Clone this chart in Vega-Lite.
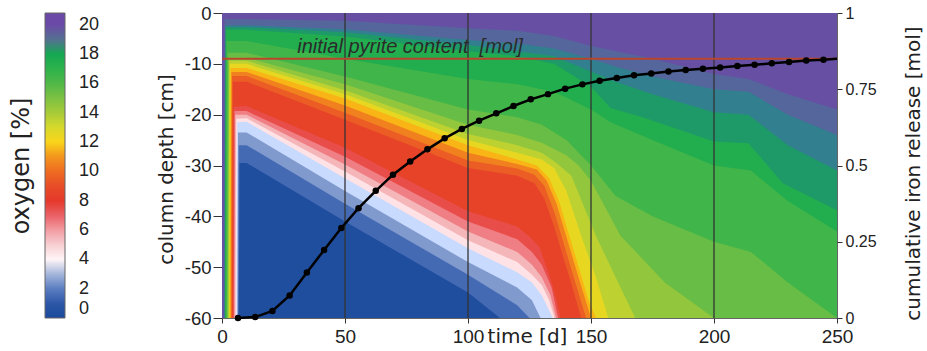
{
  "$schema": "https://vega.github.io/schema/vega-lite/v6.json",
  "width": 615,
  "height": 305,
  "autosize": {"type": "none"},
  "padding": {"left": 222, "top": 13, "right": 90, "bottom": 33},
  "background": "white",
  "config": {
    "font": "Liberation Sans",
    "view": {"stroke": "#666", "strokeWidth": 1},
    "axis": {"labelColor": "#222", "tickColor": "#333", "titleColor": "#222", "domain": false, "grid": false, "labelFlush": false}
  },
  "datasets": {
    "contours": [
      {"o":0.3,"t":0,"d":-60},{"o":0.3,"t":250,"d":-60},
      {"o":1.5,"t":0,"d":-60},{"o":1.5,"t":6.8,"d":-60},{"o":1.5,"t":7.1,"d":-29.5},{"o":1.5,"t":10,"d":-29.5},{"o":1.5,"t":50,"d":-41},{"o":1.5,"t":100,"d":-55},{"o":1.5,"t":113,"d":-60},{"o":1.5,"t":250,"d":-60},
      {"o":2.5,"t":0,"d":-60},{"o":2.5,"t":6.5,"d":-60},{"o":2.5,"t":6.8,"d":-26},{"o":2.5,"t":10,"d":-26},{"o":2.5,"t":50,"d":-37.5},{"o":2.5,"t":100,"d":-51.5},{"o":2.5,"t":120,"d":-57.5},{"o":2.5,"t":125,"d":-60},{"o":2.5,"t":250,"d":-60},
      {"o":3.5,"t":0,"d":-60},{"o":3.5,"t":6.2,"d":-60},{"o":3.5,"t":6.5,"d":-23.5},{"o":3.5,"t":10,"d":-23.5},{"o":3.5,"t":50,"d":-35},{"o":3.5,"t":100,"d":-49},{"o":3.5,"t":120,"d":-54},{"o":3.5,"t":126,"d":-56.5},{"o":3.5,"t":129.5,"d":-60},{"o":3.5,"t":250,"d":-60},
      {"o":4.5,"t":0,"d":-60},{"o":4.5,"t":5.9,"d":-60},{"o":4.5,"t":6.2,"d":-21.5},{"o":4.5,"t":10,"d":-21.4},{"o":4.5,"t":50,"d":-32.5},{"o":4.5,"t":100,"d":-46.3},{"o":4.5,"t":120,"d":-51},{"o":4.5,"t":126,"d":-53},{"o":4.5,"t":130,"d":-55.5},{"o":4.5,"t":133,"d":-58.5},{"o":4.5,"t":134.5,"d":-60},{"o":4.5,"t":250,"d":-60},
      {"o":5.5,"t":0,"d":-60},{"o":5.5,"t":5.5,"d":-60},{"o":5.5,"t":5.8,"d":-20.8},{"o":5.5,"t":10,"d":-20.7},{"o":5.5,"t":50,"d":-31.2},{"o":5.5,"t":100,"d":-44.7},{"o":5.5,"t":120,"d":-49},{"o":5.5,"t":126,"d":-51.5},{"o":5.5,"t":130,"d":-53.5},{"o":5.5,"t":133,"d":-56.5},{"o":5.5,"t":135.2,"d":-60},{"o":5.5,"t":250,"d":-60},
      {"o":6.5,"t":0,"d":-60},{"o":6.5,"t":5.1,"d":-60},{"o":6.5,"t":5.4,"d":-20},{"o":6.5,"t":10,"d":-20},{"o":6.5,"t":50,"d":-29.8},{"o":6.5,"t":100,"d":-43},{"o":6.5,"t":120,"d":-47},{"o":6.5,"t":126,"d":-49.5},{"o":6.5,"t":130,"d":-52},{"o":6.5,"t":133.5,"d":-55.5},{"o":6.5,"t":135.8,"d":-60},{"o":6.5,"t":250,"d":-60},
      {"o":7.5,"t":0,"d":-60},{"o":7.5,"t":4.8,"d":-60},{"o":7.5,"t":5.1,"d":-19.3},{"o":7.5,"t":10,"d":-19.3},{"o":7.5,"t":50,"d":-28.3},{"o":7.5,"t":100,"d":-41},{"o":7.5,"t":120,"d":-44.5},{"o":7.5,"t":126,"d":-47},{"o":7.5,"t":130,"d":-49.5},{"o":7.5,"t":134,"d":-54},{"o":7.5,"t":136.6,"d":-60},{"o":7.5,"t":250,"d":-60},
      {"o":8.5,"t":0,"d":-60},{"o":8.5,"t":4.4,"d":-60},{"o":8.5,"t":4.7,"d":-18.5},{"o":8.5,"t":10,"d":-18.3},{"o":8.5,"t":50,"d":-26.5},{"o":8.5,"t":100,"d":-39},{"o":8.5,"t":120,"d":-42},{"o":8.5,"t":125,"d":-44},{"o":8.5,"t":129,"d":-46},{"o":8.5,"t":133,"d":-51.5},{"o":8.5,"t":136,"d":-56.5},{"o":8.5,"t":137.6,"d":-60},{"o":8.5,"t":250,"d":-60},
      {"o":9.5,"t":0,"d":-60},{"o":9.5,"t":4.1,"d":-60},{"o":9.5,"t":4.4,"d":-13.5},{"o":9.5,"t":10,"d":-13.5},{"o":9.5,"t":50,"d":-21},{"o":9.5,"t":100,"d":-30.5},{"o":9.5,"t":120,"d":-32},{"o":9.5,"t":127,"d":-33.5},{"o":9.5,"t":131,"d":-36.5},{"o":9.5,"t":135,"d":-42},{"o":9.5,"t":139,"d":-48.5},{"o":9.5,"t":142.5,"d":-54},{"o":9.5,"t":146,"d":-60},{"o":9.5,"t":250,"d":-60},
      {"o":10.5,"t":0,"d":-60},{"o":10.5,"t":3.8,"d":-60},{"o":10.5,"t":4.1,"d":-12.4},{"o":10.5,"t":10,"d":-12.4},{"o":10.5,"t":50,"d":-19.6},{"o":10.5,"t":100,"d":-29},{"o":10.5,"t":120,"d":-30.6},{"o":10.5,"t":127,"d":-31.8},{"o":10.5,"t":131,"d":-34},{"o":10.5,"t":135,"d":-39},{"o":10.5,"t":139,"d":-45.5},{"o":10.5,"t":143,"d":-52},{"o":10.5,"t":148,"d":-60},{"o":10.5,"t":250,"d":-60},
      {"o":11.5,"t":0,"d":-60},{"o":11.5,"t":3.5,"d":-60},{"o":11.5,"t":3.8,"d":-11.6},{"o":11.5,"t":10,"d":-11.6},{"o":11.5,"t":50,"d":-18.2},{"o":11.5,"t":100,"d":-27.5},{"o":11.5,"t":120,"d":-29.7},{"o":11.5,"t":128,"d":-30.8},{"o":11.5,"t":132,"d":-33},{"o":11.5,"t":136,"d":-37.5},{"o":11.5,"t":140,"d":-44},{"o":11.5,"t":144,"d":-50.5},{"o":11.5,"t":150,"d":-60},{"o":11.5,"t":250,"d":-60},
      {"o":12.5,"t":0,"d":-60},{"o":12.5,"t":3.2,"d":-60},{"o":12.5,"t":3.5,"d":-10.8},{"o":12.5,"t":10,"d":-10.8},{"o":12.5,"t":50,"d":-16.8},{"o":12.5,"t":100,"d":-26},{"o":12.5,"t":120,"d":-28.8},{"o":12.5,"t":128,"d":-30},{"o":12.5,"t":133,"d":-32.5},{"o":12.5,"t":137,"d":-37},{"o":12.5,"t":141,"d":-43.5},{"o":12.5,"t":145,"d":-50},{"o":12.5,"t":149,"d":-56.5},{"o":12.5,"t":152,"d":-60},{"o":12.5,"t":250,"d":-60},
      {"o":13.5,"t":0,"d":-60},{"o":13.5,"t":2.9,"d":-60},{"o":13.5,"t":3.2,"d":-10},{"o":13.5,"t":10,"d":-10},{"o":13.5,"t":50,"d":-16},{"o":13.5,"t":100,"d":-25},{"o":13.5,"t":120,"d":-27.5},{"o":13.5,"t":130,"d":-28.8},{"o":13.5,"t":135,"d":-30.5},{"o":13.5,"t":140,"d":-35},{"o":13.5,"t":146,"d":-43.8},{"o":13.5,"t":152,"d":-52},{"o":13.5,"t":157,"d":-60},{"o":13.5,"t":250,"d":-60},
      {"o":14.5,"t":0,"d":-60},{"o":14.5,"t":2.6,"d":-60},{"o":14.5,"t":2.9,"d":-9.4},{"o":14.5,"t":10,"d":-9.4},{"o":14.5,"t":50,"d":-15.2},{"o":14.5,"t":100,"d":-23.8},{"o":14.5,"t":120,"d":-26},{"o":14.5,"t":130,"d":-27.5},{"o":14.5,"t":136,"d":-29.5},{"o":14.5,"t":142,"d":-32},{"o":14.5,"t":152,"d":-43.8},{"o":14.5,"t":160,"d":-52},{"o":14.5,"t":168,"d":-60},{"o":14.5,"t":250,"d":-60},
      {"o":15.5,"t":0,"d":-60},{"o":15.5,"t":2.3,"d":-60},{"o":15.5,"t":2.6,"d":-8.8},{"o":15.5,"t":10,"d":-8.8},{"o":15.5,"t":50,"d":-14},{"o":15.5,"t":100,"d":-22},{"o":15.5,"t":120,"d":-24},{"o":15.5,"t":130,"d":-25.5},{"o":15.5,"t":140,"d":-28},{"o":15.5,"t":145,"d":-30},{"o":15.5,"t":150,"d":-33},{"o":15.5,"t":162,"d":-43.8},{"o":15.5,"t":180,"d":-53},{"o":15.5,"t":200,"d":-60},{"o":15.5,"t":250,"d":-60},
      {"o":16.5,"t":0,"d":-60},{"o":16.5,"t":2,"d":-60},{"o":16.5,"t":2.3,"d":-7.8},{"o":16.5,"t":10,"d":-7.8},{"o":16.5,"t":50,"d":-12.5},{"o":16.5,"t":100,"d":-19},{"o":16.5,"t":120,"d":-20.5},{"o":16.5,"t":130,"d":-22},{"o":16.5,"t":140,"d":-25},{"o":16.5,"t":150,"d":-30},{"o":16.5,"t":160,"d":-36},{"o":16.5,"t":175,"d":-40},{"o":16.5,"t":200,"d":-45},{"o":16.5,"t":215,"d":-47},{"o":16.5,"t":230,"d":-53},{"o":16.5,"t":250,"d":-60},
      {"o":17.5,"t":0,"d":-60},{"o":17.5,"t":1.5,"d":-60},{"o":17.5,"t":1.8,"d":-5.5},{"o":17.5,"t":10,"d":-5.5},{"o":17.5,"t":50,"d":-9},{"o":17.5,"t":100,"d":-13},{"o":17.5,"t":120,"d":-14},{"o":17.5,"t":135,"d":-15.5},{"o":17.5,"t":150,"d":-19},{"o":17.5,"t":158,"d":-21.5},{"o":17.5,"t":175,"d":-25},{"o":17.5,"t":200,"d":-30},{"o":17.5,"t":215,"d":-31},{"o":17.5,"t":230,"d":-37},{"o":17.5,"t":250,"d":-43},
      {"o":18.25,"t":0,"d":-60},{"o":18.25,"t":1.2,"d":-60},{"o":18.25,"t":1.5,"d":-3.3},{"o":18.25,"t":10,"d":-3.3},{"o":18.25,"t":50,"d":-4.6},{"o":18.25,"t":100,"d":-7.5},{"o":18.25,"t":120,"d":-8.5},{"o":18.25,"t":135,"d":-10},{"o":18.25,"t":150,"d":-14.5},{"o":18.25,"t":158,"d":-18.7},{"o":18.25,"t":171,"d":-20.5},{"o":18.25,"t":200,"d":-25.3},{"o":18.25,"t":214,"d":-25.6},{"o":18.25,"t":228,"d":-33.5},{"o":18.25,"t":250,"d":-38.8},
      {"o":18.75,"t":0,"d":-60},{"o":18.75,"t":1.1,"d":-60},{"o":18.75,"t":1.4,"d":-2.8},{"o":18.75,"t":10,"d":-2.8},{"o":18.75,"t":50,"d":-3.8},{"o":18.75,"t":100,"d":-6.3},{"o":18.75,"t":120,"d":-7.5},{"o":18.75,"t":135,"d":-8.5},{"o":18.75,"t":150,"d":-11.5},{"o":18.75,"t":160,"d":-13.5},{"o":18.75,"t":175,"d":-16},{"o":18.75,"t":200,"d":-19.5},{"o":18.75,"t":214,"d":-20},{"o":18.75,"t":230,"d":-26},{"o":18.75,"t":250,"d":-31},
      {"o":19.25,"t":0,"d":-60},{"o":19.25,"t":1,"d":-60},{"o":19.25,"t":1.3,"d":-2.4},{"o":19.25,"t":10,"d":-2.4},{"o":19.25,"t":50,"d":-3.2},{"o":19.25,"t":100,"d":-5.3},{"o":19.25,"t":120,"d":-6},{"o":19.25,"t":135,"d":-7},{"o":19.25,"t":150,"d":-9},{"o":19.25,"t":160,"d":-10.5},{"o":19.25,"t":175,"d":-12.5},{"o":19.25,"t":200,"d":-15},{"o":19.25,"t":214,"d":-15.5},{"o":19.25,"t":230,"d":-20},{"o":19.25,"t":250,"d":-24},
      {"o":19.8,"t":0,"d":-60},{"o":19.8,"t":0.7,"d":-60},{"o":19.8,"t":1,"d":-1.2},{"o":19.8,"t":10,"d":-1.2},{"o":19.8,"t":50,"d":-1.5},{"o":19.8,"t":100,"d":-3},{"o":19.8,"t":120,"d":-3.5},{"o":19.8,"t":135,"d":-4.5},{"o":19.8,"t":150,"d":-6.5},{"o":19.8,"t":175,"d":-9},{"o":19.8,"t":200,"d":-12},{"o":19.8,"t":214,"d":-13},{"o":19.8,"t":230,"d":-16},{"o":19.8,"t":250,"d":-19}
    ],
    "grid": [{"t":50},{"t":100},{"t":150},{"t":200}],
    "notes": [{"t":30.6,"d":-7.9,"label":"initial pyrite content\u00a0 [mol]"}],
    "pyrite": [{"v":0.85}],
    "iron": [
      {"t":6.5,"v":0,"m":1},{"t":13.5,"v":0.003,"m":1},{"t":20.5,"v":0.023,"m":1},{"t":27.5,"v":0.074,"m":1},{"t":34.5,"v":0.149,"m":1},
      {"t":41.5,"v":0.223,"m":1},{"t":48.5,"v":0.295,"m":1},{"t":55.5,"v":0.36,"m":1},{"t":62.5,"v":0.417,"m":1},{"t":69.5,"v":0.47,"m":1},
      {"t":76.5,"v":0.513,"m":1},{"t":83.5,"v":0.553,"m":1},{"t":90.5,"v":0.589,"m":1},{"t":97.5,"v":0.62,"m":1},{"t":104.5,"v":0.647,"m":1},
      {"t":111.5,"v":0.671,"m":1},{"t":118.5,"v":0.695,"m":1},{"t":125.5,"v":0.717,"m":1},{"t":132.5,"v":0.734,"m":1},{"t":139.5,"v":0.752,"m":1},
      {"t":146.5,"v":0.766,"m":1},{"t":153.5,"v":0.778,"m":1},{"t":160.5,"v":0.787,"m":1},{"t":167.5,"v":0.796,"m":1},{"t":174.5,"v":0.802,"m":1},
      {"t":181.5,"v":0.808,"m":1},{"t":188.5,"v":0.813,"m":1},{"t":195.5,"v":0.817,"m":1},{"t":202.5,"v":0.821,"m":1},{"t":209.5,"v":0.826,"m":1},
      {"t":216.5,"v":0.83,"m":1},{"t":223.5,"v":0.835,"m":1},{"t":230.5,"v":0.839,"m":1},{"t":237.5,"v":0.844,"m":1},{"t":244.5,"v":0.847,"m":1},
      {"t":250,"v":0.85,"m":0}
    ]
  },
  "layer": [
    {
      "layer": [
        {
          "data": {"name": "contours"},
          "mark": {"type": "area", "interpolate": "linear"},
          "encoding": {
            "x": {"field": "t", "type": "quantitative", "scale": {"domain": [0, 250], "nice": false, "zero": false},
              "axis": {"values": [0, 50, 100, 150, 200, 250], "title": "time [d]", "titleX": 305, "titleY": 8, "titleAlign": "center", "titleBaseline": "top", "titleFont": "DejaVu Sans", "titleFontSize": 20, "titleFontWeight": "normal", "labelFont": "Liberation Sans", "labelFontSize": 19, "tickSize": 5, "labelPadding": 4}},
            "y": {"field": "d", "type": "quantitative", "stack": null, "scale": {"domain": [-60, 0], "nice": false},
              "axis": {"orient": "left", "values": [-60, -50, -40, -30, -20, -10, 0], "labelExpr": "datum.value + ''", "title": "column depth [cm]", "titleX": -66, "titleY": 156, "titleAngle": -90, "titleAlign": "center", "titleBaseline": "top", "titleFont": "DejaVu Sans", "titleFontSize": 20, "titleFontWeight": "normal", "labelFont": "Liberation Sans", "labelFontSize": 18.5, "tickSize": 9, "labelPadding": 2}},
            "detail": {"field": "o", "type": "quantitative"},
            "color": {"field": "o", "type": "quantitative",
              "scale": {"domain": [0,1,2,3,4,5,6,7,8,9,10,11,12,13,14,15,16,17,18,18.5,19,19.5,20,20.8],
                "range": ["#1a4a9c","#2d57a7","#5c7ec1","#a5b6db","#ffffff","#f7cfd2","#f19ca2","#ea6065","#e5392b","#e84d28","#ee6c22","#f3961d","#f9d51a","#d6d92b","#a6cb38","#7cc142","#50b848","#2db24b","#15a853","#3b8a74","#557092","#6357a0","#6a4aa6","#6a4aa6"]},
              "legend": {"orient": "none", "legendX": -212, "legendY": 0, "direction": "vertical", "gradientLength": 305, "gradientThickness": 20, "title": "oxygen [%]", "titleOrient": "left", "titleAnchor": "middle", "titleFont": "DejaVu Sans", "titleFontSize": 24, "titleFontWeight": "normal", "titleColor": "#222", "titlePadding": 10, "labelFont": "Liberation Sans", "labelFontSize": 18, "labelColor": "#222", "labelOffset": 14, "labelBaseline": "middle", "labelOverlap": false, "values": [0,2,4,6,8,10,12,14,16,18,20], "gradientStrokeColor": "#666", "gradientStrokeWidth": 1}}
          }
        },
        {
          "data": {"name": "grid"},
          "mark": {"type": "rule", "color": "#333", "strokeWidth": 1.3},
          "encoding": {"x": {"field": "t", "type": "quantitative"}}
        },
        {
          "data": {"name": "notes"},
          "mark": {"type": "text", "align": "left", "baseline": "alphabetic", "font": "Liberation Sans", "fontStyle": "italic", "fontSize": 20, "color": "#2b2b2b"},
          "encoding": {
            "x": {"field": "t", "type": "quantitative"},
            "y": {"field": "d", "type": "quantitative"},
            "text": {"field": "label"}
          }
        }
      ]
    },
    {
      "layer": [
        {
          "data": {"name": "pyrite"},
          "mark": {"type": "rule", "color": "#b8452c", "strokeWidth": 2},
          "encoding": {
            "y": {"field": "v", "type": "quantitative", "scale": {"domain": [0, 1], "nice": false},
              "axis": {"orient": "right", "values": [0, 0.25, 0.5, 0.75, 1], "labelExpr": "datum.value + ''", "title": "cumulative iron release [mol]", "titleX": 66, "titleY": 160, "titleAngle": -90, "titleAlign": "center", "titleBaseline": "top", "titleFont": "DejaVu Sans", "titleFontSize": 20, "titleFontWeight": "normal", "labelFont": "Liberation Sans", "labelFontSize": 16, "tickSize": 5, "labelPadding": 3}}
          }
        },
        {
          "data": {"name": "iron"},
          "mark": {"type": "line", "color": "black", "strokeWidth": 2.5},
          "encoding": {
            "x": {"field": "t", "type": "quantitative"},
            "y": {"field": "v", "type": "quantitative", "scale": {"domain": [0, 1], "nice": false}}
          }
        },
        {
          "data": {"name": "iron"},
          "transform": [{"filter": "datum.m == 1"}],
          "mark": {"type": "point", "filled": true, "color": "black", "size": 42, "opacity": 1},
          "encoding": {
            "x": {"field": "t", "type": "quantitative"},
            "y": {"field": "v", "type": "quantitative", "scale": {"domain": [0, 1], "nice": false}}
          }
        }
      ]
    }
  ],
  "resolve": {"scale": {"y": "independent"}, "axis": {"y": "independent"}}
}
